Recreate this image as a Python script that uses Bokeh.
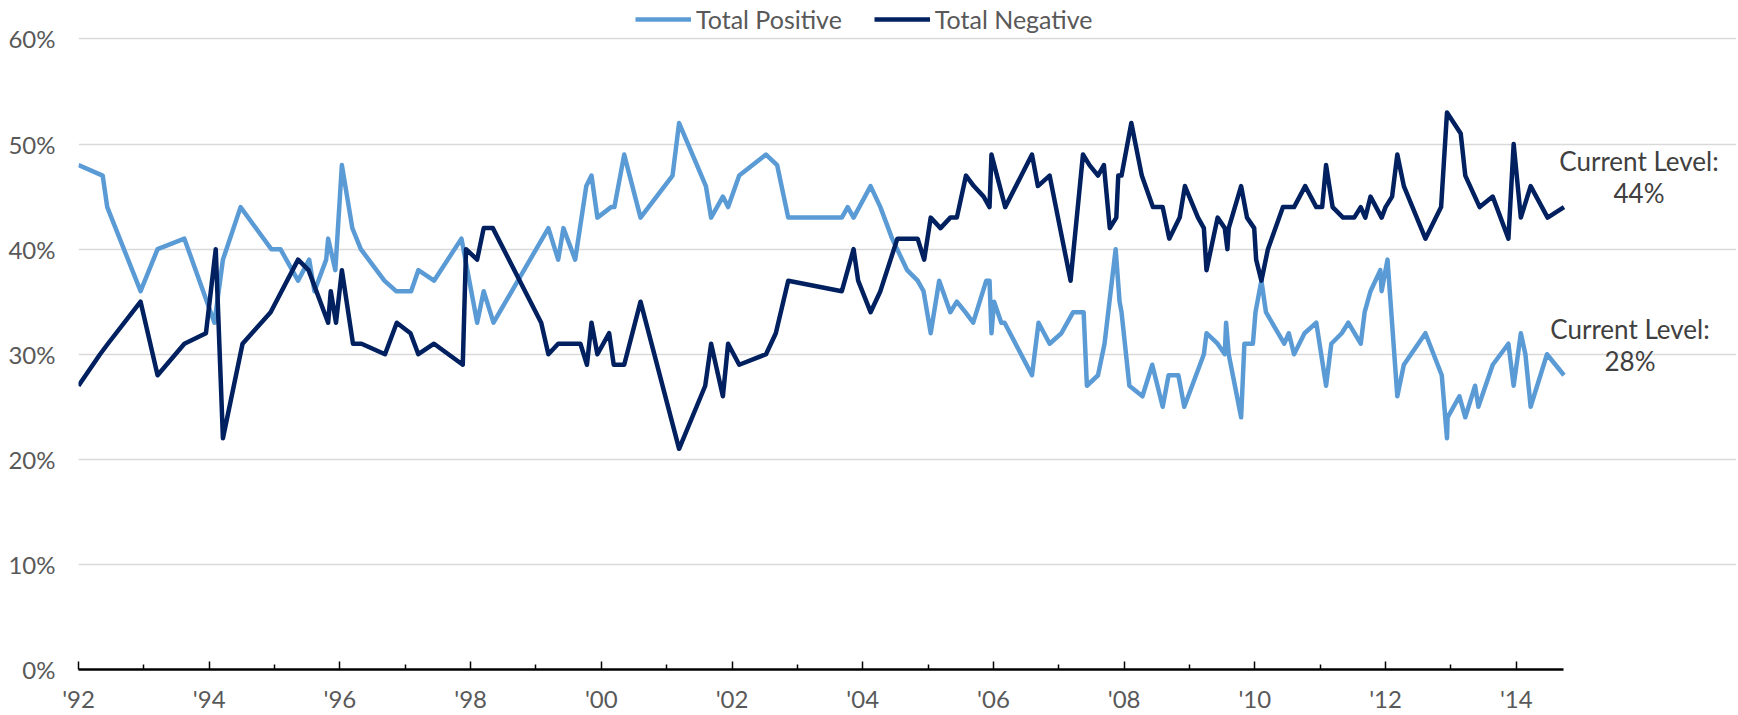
from bokeh.plotting import figure
from bokeh.models import (Range1d, FixedTicker, CustomJSTickFormatter, PrintfTickFormatter,
                          Legend, LegendItem, Label)
from bokeh.embed import file_html
from bokeh.resources import INLINE

# ---- data (decimal year, percent) ----
pos_x = [1992.00, 1992.37, 1992.44, 1992.95, 1993.21, 1993.62, 1994.08, 1994.21, 1994.48, 1994.95,
         1995.09, 1995.36, 1995.53, 1995.61, 1995.79, 1995.82, 1995.93, 1996.03, 1996.19, 1996.32,
         1996.68, 1996.86, 1997.09, 1997.20, 1997.44, 1997.86, 1998.10, 1998.20, 1998.35, 1999.19,
         1999.34, 1999.42, 1999.60, 1999.77, 1999.85, 1999.94, 2000.15, 2000.20, 2000.35, 2000.60,
         2001.09, 2001.19, 2001.60, 2001.68, 2001.86, 2001.94, 2002.11, 2002.52, 2002.69, 2002.86,
         2003.68, 2003.77, 2003.86, 2004.12, 2004.27, 2004.45, 2004.68, 2004.84, 2004.93, 2005.04,
         2005.17, 2005.34, 2005.44, 2005.57, 2005.69, 2005.89, 2005.94, 2005.97, 2006.01, 2006.12,
         2006.17, 2006.59, 2006.69, 2006.86, 2007.04, 2007.22, 2007.38, 2007.43, 2007.60, 2007.70,
         2007.87, 2007.93, 2007.96, 2008.08, 2008.28, 2008.43, 2008.59, 2008.68, 2008.83, 2008.92,
         2009.22, 2009.26, 2009.43, 2009.54, 2009.56, 2009.60, 2009.79, 2009.84, 2009.97, 2010.01,
         2010.10, 2010.17, 2010.45, 2010.52, 2010.60, 2010.76, 2010.94, 2011.09, 2011.17, 2011.33,
         2011.43, 2011.62, 2011.68, 2011.77, 2011.92, 2011.94, 2012.03, 2012.18, 2012.28, 2012.61,
         2012.86, 2012.94, 2012.95, 2013.13, 2013.22, 2013.37, 2013.42, 2013.64, 2013.88, 2013.96,
         2014.07, 2014.14, 2014.22, 2014.47, 2014.73]
pos_y = [48, 47, 44, 36, 40, 41, 33, 39, 44, 40,
         40, 37, 39, 36, 39, 41, 38, 48, 42, 40,
         37, 36, 36, 38, 37, 41, 33, 36, 33, 42,
         39, 42, 39, 46, 47, 43, 44, 44, 49, 43,
         47, 52, 46, 43, 45, 44, 47, 49, 48, 43,
         43, 44, 43, 46, 44, 41, 38, 37, 36, 32,
         37, 34, 35, 34, 33, 37, 37, 32, 35, 33,
         33, 28, 33, 31, 32, 34, 34, 27, 28, 31,
         40, 35, 34, 27, 26, 29, 25, 28, 28, 25,
         30, 32, 31, 30, 33, 30, 24, 31, 31, 34,
         37, 34, 31, 32, 30, 32, 33, 27, 31, 32,
         33, 31, 34, 36, 38, 36, 39, 26, 29, 32,
         28, 22, 24, 26, 24, 27, 25, 29, 31, 27,
         32, 30, 25, 30, 28]

neg_x = [1992.00, 1992.33, 1992.45, 1992.95, 1993.21, 1993.62, 1993.95, 1994.10, 1994.21, 1994.51,
         1994.94, 1995.36, 1995.52, 1995.82, 1995.86, 1995.94, 1996.03, 1996.20, 1996.33, 1996.69,
         1996.87, 1997.08, 1997.20, 1997.44, 1997.88, 1997.93, 1998.10, 1998.20, 1998.34, 1999.08,
         1999.19, 1999.34, 1999.68, 1999.78, 1999.85, 1999.94, 2000.12, 2000.19, 2000.35, 2000.60,
         2001.19, 2001.59, 2001.68, 2001.86, 2001.94, 2002.11, 2002.52, 2002.67, 2002.86, 2003.68,
         2003.86, 2003.93, 2004.12, 2004.27, 2004.53, 2004.84, 2004.94, 2005.04, 2005.19, 2005.34,
         2005.44, 2005.58, 2005.70, 2005.85, 2005.94, 2005.97, 2006.18, 2006.59, 2006.68, 2006.86,
         2007.18, 2007.37, 2007.47, 2007.60, 2007.69, 2007.78, 2007.88, 2007.91, 2007.96, 2008.11,
         2008.27, 2008.44, 2008.59, 2008.69, 2008.85, 2008.93, 2009.13, 2009.22, 2009.26, 2009.43,
         2009.54, 2009.58, 2009.60, 2009.79, 2009.88, 2009.99, 2010.02, 2010.10, 2010.20, 2010.43,
         2010.60, 2010.77, 2010.94, 2011.03, 2011.09, 2011.19, 2011.35, 2011.52, 2011.62, 2011.69,
         2011.77, 2011.94, 2012.00, 2012.10, 2012.18, 2012.28, 2012.61, 2012.85, 2012.94, 2013.15,
         2013.22, 2013.44, 2013.64, 2013.88, 2013.96, 2014.07, 2014.22, 2014.48, 2014.73]
neg_y = [27, 30, 31, 35, 28, 31, 32, 40, 22, 31,
         34, 39, 38, 33, 36, 33, 38, 31, 31, 30,
         33, 32, 30, 31, 29, 40, 39, 42, 42, 33,
         30, 31, 31, 29, 33, 30, 32, 29, 29, 35,
         21, 27, 31, 26, 31, 29, 30, 32, 37, 36,
         40, 37, 34, 36, 41, 41, 39, 43, 42, 43,
         43, 47, 46, 45, 44, 49, 44, 49, 46, 47,
         37, 49, 48, 47, 48, 42, 43, 47, 47, 52,
         47, 44, 44, 41, 43, 46, 43, 42, 38, 43,
         42, 40, 42, 46, 43, 42, 39, 37, 40, 44,
         44, 46, 44, 44, 48, 44, 43, 43, 44, 43,
         45, 43, 44, 45, 49, 46, 41, 44, 53, 51,
         47, 44, 45, 41, 50, 43, 46, 43, 44]

series_names = ["Total Positive", "Total Negative"]
y_ticks = [0, 10, 20, 30, 40, 50, 60]
x_major = [1992, 1994, 1996, 1998, 2000, 2002, 2004, 2006, 2008, 2010, 2012, 2014]
x_minor = [1993, 1995, 1997, 1999, 2001, 2003, 2005, 2007, 2009, 2011, 2013]

FONT = "Lato"
FS = "24px"
LIGHT = "#5B9BD5"
DARK = "#002060"

x_first, x_last = pos_x[0], pos_x[-1]

p = figure(width=1736, height=715, output_backend="svg", toolbar_location=None,
           x_range=Range1d(1992, 2017.37), y_range=Range1d(0, 63.66),
           min_border_left=78, min_border_right=0, min_border_top=0, min_border_bottom=45)
p.outline_line_color = None

r_pos = p.line(pos_x, pos_y, color=LIGHT, line_width=4.5, line_join="round")
r_neg = p.line(neg_x, neg_y, color=DARK, line_width=4.5, line_join="round")

# y axis
p.yaxis.ticker = FixedTicker(ticks=y_ticks)
p.yaxis.formatter = PrintfTickFormatter(format="%d%%")
p.yaxis.axis_line_color = None
p.yaxis.major_tick_line_color = None
p.yaxis.minor_tick_line_color = None
p.yaxis.major_label_text_font = FONT
p.yaxis.major_label_text_font_size = FS
p.yaxis.major_label_text_color = "#595959"
p.yaxis.major_label_standoff = 17

p.ygrid.grid_line_color = "#D9D9D9"
p.ygrid.grid_line_width = 1.5
p.ygrid.bounds = (x_first, x_last)
p.xgrid.grid_line_color = None

# x axis
p.xaxis.bounds = (x_first, x_last)
p.xaxis.ticker = FixedTicker(ticks=x_major, minor_ticks=x_minor)
p.xaxis.formatter = CustomJSTickFormatter(code="return \"'\" + String(Math.round(tick)).slice(-2);")
p.xaxis.axis_line_color = "black"
p.xaxis.axis_line_width = 2.5
p.xaxis.major_tick_in = 8
p.xaxis.major_tick_out = 0
p.xaxis.minor_tick_in = 5
p.xaxis.minor_tick_out = 0
p.xaxis.major_tick_line_color = "black"
p.xaxis.major_tick_line_width = 1.5
p.xaxis.minor_tick_line_color = "black"
p.xaxis.minor_tick_line_width = 1.5
p.xaxis.major_label_text_font = FONT
p.xaxis.major_label_text_font_size = FS
p.xaxis.major_label_text_color = "#595959"
p.xaxis.major_label_standoff = 14

legend = Legend(items=[LegendItem(label=series_names[0], renderers=[r_pos]),
                       LegendItem(label=series_names[1], renderers=[r_neg])],
                orientation="horizontal", location=(557, 635),
                border_line_color=None, background_fill_alpha=0,
                label_text_font=FONT, label_text_font_size="25px", label_text_color="#595959",
                glyph_width=56, glyph_height=20, label_standoff=5, spacing=32,
                padding=0, margin=0)
p.add_layout(legend)

# "Current Level" annotations anchored to each series' last value
for xs, ys, xoff in ((neg_x, neg_y, 75), (pos_x, pos_y, 66)):
    for txt, yoff in (("Current Level:", 46), ("%d%%" % ys[-1], 14)):
        p.add_layout(Label(x=xs[-1], y=ys[-1], x_offset=xoff, y_offset=yoff,
                           text=txt, text_align="center", text_baseline="middle",
                           text_font=FONT, text_font_size="26px", text_color="#404040"))

open("out.html", "w").write(file_html(p, INLINE))
